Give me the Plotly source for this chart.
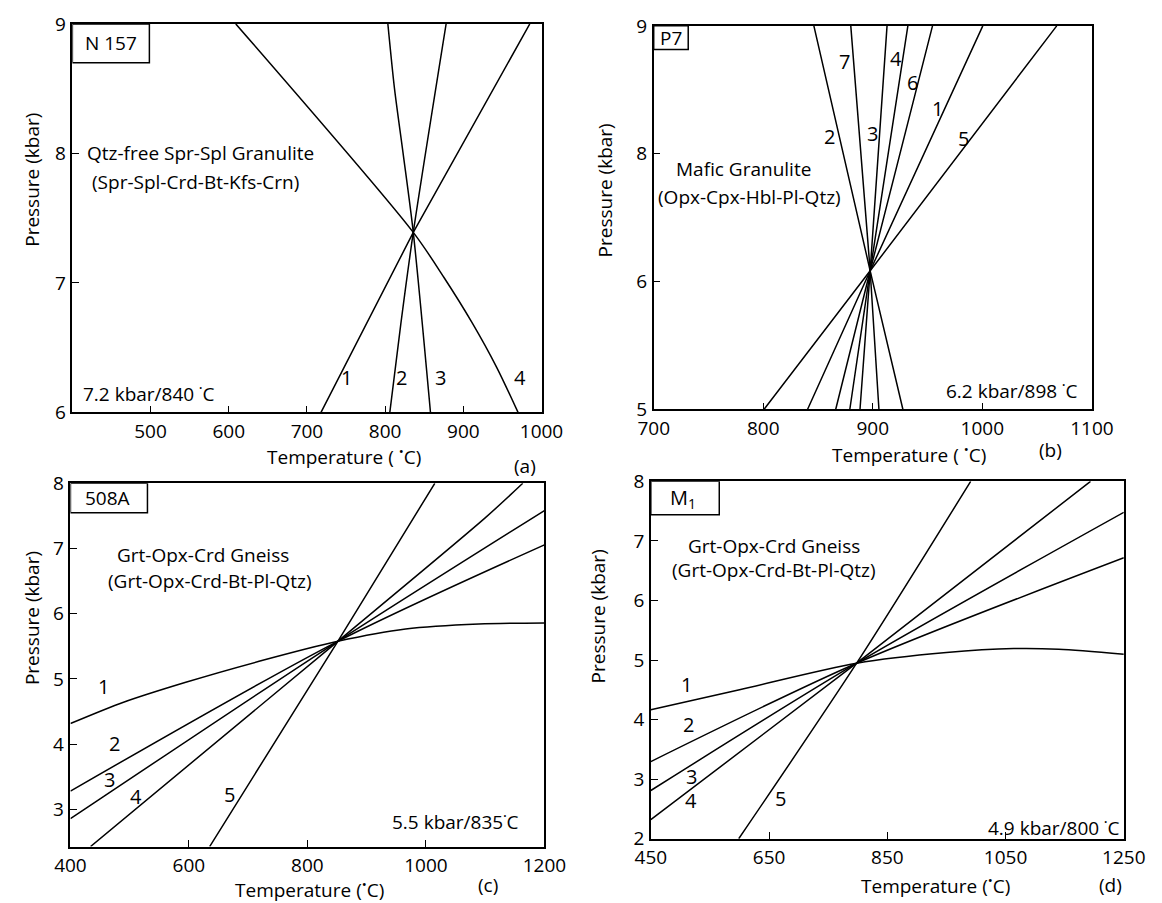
import plotly.graph_objects as go

# ---------------- Panel (a): N 157 ----------------
a_T1 = [718, 836, 985];            a_P1 = [6.0, 7.39, 9.0]
a_T2 = [806, 820, 836, 878];       a_P2 = [6.0, 6.68, 7.39, 9.0]
a_T3 = [858, 836, 823, 812, 803.5]; a_P3 = [6.0, 7.39, 8.0, 8.5, 9.0]
a_T4 = [970, 942.5, 911, 875.5, 836, 609]; a_P4 = [6.0, 6.35, 6.695, 7.04, 7.39, 9.0]
a_lab = ["1", "2", "3", "4"]
a_labT = [751, 821, 871, 973]
a_labP = [6.27, 6.27, 6.27, 6.27]

# ---------------- Panel (b): P7 ----------------
b_ix, b_iy = 897.6, 6.446
b_names = ["1", "2", "3", "4", "5", "6", "7"]
b_bottomT = [840.4, 927.5, 888.3, 879.0, 800.6, 866.1, 905.6]
b_topT = [1000.4, 846.2, 913.0, 932.0, 1067.9, 954.5, 879.9]
b_labT = [958.6, 860.7, 899.9, 921, 982.7, 936, 874.5]
b_labP = [8.135, 7.845, 7.88, 8.66, 7.83, 8.41, 8.626]
b_yticks = [5, 6.333, 7.667, 9]
b_yticktext = ["5", "6", "8", "9"]

# ---------------- Panel (c): 508A ----------------
c_T1 = [400, 489.6, 594.7, 718.4, 851.3, 965.7, 1089.3, 1200]
c_P1 = [4.316, 4.643, 4.949, 5.27, 5.577, 5.765, 5.842, 5.857]
c_T2 = [400, 851.3, 1200];         c_P2 = [3.28, 5.577, 7.056]
c_T3 = [400, 851.3, 1200];         c_P3 = [2.857, 5.577, 7.582]
c_T4 = [434, 851.3, 1100, 1163.5]; c_P4 = [2.43, 5.577, 7.47, 8.0]
c_T5 = [635, 851.3, 1015];         c_P5 = [2.43, 5.577, 8.0]
c_lab = ["1", "2", "3", "4", "5"]
c_labT = [455.6, 474.2, 466.2, 511.3, 669]
c_labP = [4.888, 4.01, 3.46, 3.20, 3.23]

# ---------------- Panel (d): M1 ----------------
d_T1 = [450, 600, 798.1, 950, 1063.9, 1139.9, 1250]
d_P1 = [4.166, 4.503, 4.947, 5.126, 5.193, 5.182, 5.098]
d_T2 = [450, 798.1, 1250];         d_P2 = [3.296, 4.947, 6.717]
d_T3 = [450, 798.1, 1250];         d_P3 = [2.81, 4.947, 7.48]
d_T4 = [450, 798.1, 1193.7];       d_P4 = [2.32, 4.947, 8.0]
d_T5 = [598.7, 798.1, 991];        d_P5 = [2.0, 4.947, 8.0]
d_lab = ["1", "2", "3", "4", "5"]
d_labT = [510, 513.3, 518.4, 518.4, 669.6]
d_labP = [4.596, 3.91, 3.05, 2.64, 2.67]

W, H = 1162, 903
FONT = "Open Sans"
LW = 1.5
TICK_FS = 19
TXT_FS = 19
NUM_FS = 20

fig = go.Figure()


def add_line(T, P, xa, ya, spline=True):
    fig.add_trace(go.Scatter(
        x=T, y=P, mode="lines", xaxis=xa, yaxis=ya,
        line=dict(color="black", width=LW, shape="spline" if spline else "linear",
                  smoothing=0.8),
        showlegend=False, hoverinfo="skip"))


# panel a
add_line(a_T1, a_P1, "x", "y", False)
add_line(a_T2, a_P2, "x", "y")
add_line(a_T3, a_P3, "x", "y")
add_line(a_T4, a_P4, "x", "y")
# panel b
for bt, tt in zip(b_bottomT, b_topT):
    add_line([bt, b_ix, tt], [5, b_iy, 9], "x2", "y2", False)
# panel c
add_line(c_T1, c_P1, "x3", "y3")
add_line(c_T2, c_P2, "x3", "y3")
add_line(c_T3, c_P3, "x3", "y3")
add_line(c_T4, c_P4, "x3", "y3")
add_line(c_T5, c_P5, "x3", "y3")
# panel d
add_line(d_T1, d_P1, "x4", "y4")
add_line(d_T2, d_P2, "x4", "y4")
add_line(d_T3, d_P3, "x4", "y4")
add_line(d_T4, d_P4, "x4", "y4")
add_line(d_T5, d_P5, "x4", "y4")


def px_dom_x(a, b):
    return [a / W, b / W]


def px_dom_y(top, bottom):
    return [1 - bottom / H, 1 - top / H]


def axis(dom, rng, tickvals, ticktext=None, anchor=None):
    d = dict(domain=dom, range=rng, tickvals=tickvals, showgrid=False,
             zeroline=False, showline=True, mirror=True, linecolor="black",
             linewidth=LW, ticks="inside", ticklen=7, tickwidth=1.2,
             tickcolor="black", anchor=anchor, ticklabelstandoff=1,
             tickfont=dict(family=FONT, size=TICK_FS, color="black"))
    if ticktext is not None:
        d["ticktext"] = ticktext
    return d


fig.update_layout(
    width=W, height=H, autosize=False,
    margin=dict(l=0, r=0, t=0, b=0),
    paper_bgcolor="white", plot_bgcolor="white",
    xaxis=axis(px_dom_x(50, 535), [400, 1000], [500, 600, 700, 800, 900, 1000], anchor="y"),
    yaxis=axis(px_dom_y(3, 403), [6, 9], [6, 7, 8, 9], anchor="x"),
    xaxis2=axis(px_dom_x(651, 1104), [700, 1100], [700, 800, 900, 1000, 1100], anchor="y2"),
    yaxis2=axis(px_dom_y(5, 400), [5, 9], b_yticks, b_yticktext, anchor="x2"),
    xaxis3=axis(px_dom_x(48, 538), [400, 1200], [400, 600, 800, 1000, 1200], anchor="y3"),
    yaxis3=axis(px_dom_y(476, 850), [2.43, 8], [3, 4, 5, 6, 7, 8], anchor="x3"),
    xaxis4=axis(px_dom_x(648, 1137), [450, 1250], [450, 650, 850, 1050, 1250], anchor="y4"),
    yaxis4=axis(px_dom_y(474, 842), [2, 8], [2, 3, 4, 5, 6, 7, 8], anchor="x4"),
)

ann = []


def txt(x, y, s, xr, yr, size=TXT_FS, xanchor="center", yanchor="middle", angle=0):
    ann.append(dict(x=x, y=y, text=s, xref=xr, yref=yr, showarrow=False,
                    xanchor=xanchor, yanchor=yanchor, textangle=angle,
                    font=dict(family=FONT, size=size, color="black")))


# line number labels
for s, x, y in zip(a_lab, a_labT, a_labP):
    txt(x, y, s, "x", "y", NUM_FS)
for s, x, y in zip(b_names, b_labT, b_labP):
    txt(x, y, s, "x2", "y2", NUM_FS)
for s, x, y in zip(c_lab, c_labT, c_labP):
    txt(x, y, s, "x3", "y3", NUM_FS)
for s, x, y in zip(d_lab, d_labT, d_labP):
    txt(x, y, s, "x4", "y4", NUM_FS)

# panel texts
txt(416, 8.00, "Qtz-free Spr-Spl Granulite", "x", "y", xanchor="left")
txt(422, 7.78, "(Spr-Spl-Crd-Bt-Kfs-Crn)", "x", "y", xanchor="left")
txt(411, 6.14, "7.2 kbar/840 \u02d9C", "x", "y", xanchor="left")
txt(449, 8.85, "N 157", "x", "y")

txt(782, 7.51, "Mafic Granulite", "x2", "y2")
txt(787, 7.22, "(Opx-Cpx-Hbl-Pl-Qtz)", "x2", "y2")
txt(1088, 5.19, "6.2 kbar/898 \u02d9C", "x2", "y2", xanchor="right")
txt(716, 8.875, "P7", "x2", "y2")

txt(623, 6.90, "Grt-Opx-Crd Gneiss", "x3", "y3")
txt(635, 6.50, "(Grt-Opx-Crd-Bt-Pl-Qtz)", "x3", "y3")
txt(1050, 2.80, "5.5 kbar/835\u02d9C", "x3", "y3")
txt(462, 7.77, "508A", "x3", "y3")

txt(659, 6.92, "Grt-Opx-Crd Gneiss", "x4", "y4")
txt(659, 6.52, "(Grt-Opx-Crd-Bt-Pl-Qtz)", "x4", "y4")
txt(1245, 2.18, "4.9 kbar/800 \u02d9C", "x4", "y4", xanchor="right")
txt(505, 7.72, "M<sub>1</sub>", "x4", "y4", 20)

# axis titles & panel letters
txt(-0.085, 0.60, "Pressure (kbar)", "x domain", "y domain", angle=-90)
txt(0.579, -0.113, "Temperature ( <sup>\u2022</sup>C)", "x domain", "y domain")
txt(0.964, -0.138, "(a)", "x domain", "y domain")

txt(-0.112, 0.57, "Pressure (kbar)", "x2 domain", "y2 domain", angle=-90)
txt(0.582, -0.117, "Temperature ( <sup>\u2022</sup>C)", "x2 domain", "y2 domain")
txt(0.905, -0.106, "(b)", "x2 domain", "y2 domain")

txt(-0.081, 0.629, "Pressure (kbar)", "x3 domain", "y3 domain", angle=-90)
txt(0.505, -0.116, "Temperature (<sup>\u2022</sup>C)", "x3 domain", "y3 domain")
txt(0.88, -0.106, "(c)", "x3 domain", "y3 domain")

txt(-0.111, 0.623, "Pressure (kbar)", "x4 domain", "y4 domain", angle=-90)
txt(0.602, -0.128, "Temperature (<sup>\u2022</sup>C)", "x4 domain", "y4 domain")
txt(0.972, -0.128, "(d)", "x4 domain", "y4 domain")

fig.update_layout(annotations=ann)

# sample-name boxes
shapes = []
for xr, yr, x0, x1, y0, y1 in [("x", "y", 400, 498.5, 8.70, 9),
                               ("x2", "y2", 700, 731.5, 8.753, 9),
                               ("x3", "y3", 400, 530, 7.55, 8),
                               ("x4", "y4", 450, 565.8, 7.44, 8)]:
    shapes.append(dict(type="rect", xref=xr, yref=yr, x0=x0, x1=x1, y0=y0, y1=y1,
                       line=dict(color="black", width=LW), fillcolor="rgba(0,0,0,0)"))
fig.update_layout(shapes=shapes)

fig.write_html("out.html")
